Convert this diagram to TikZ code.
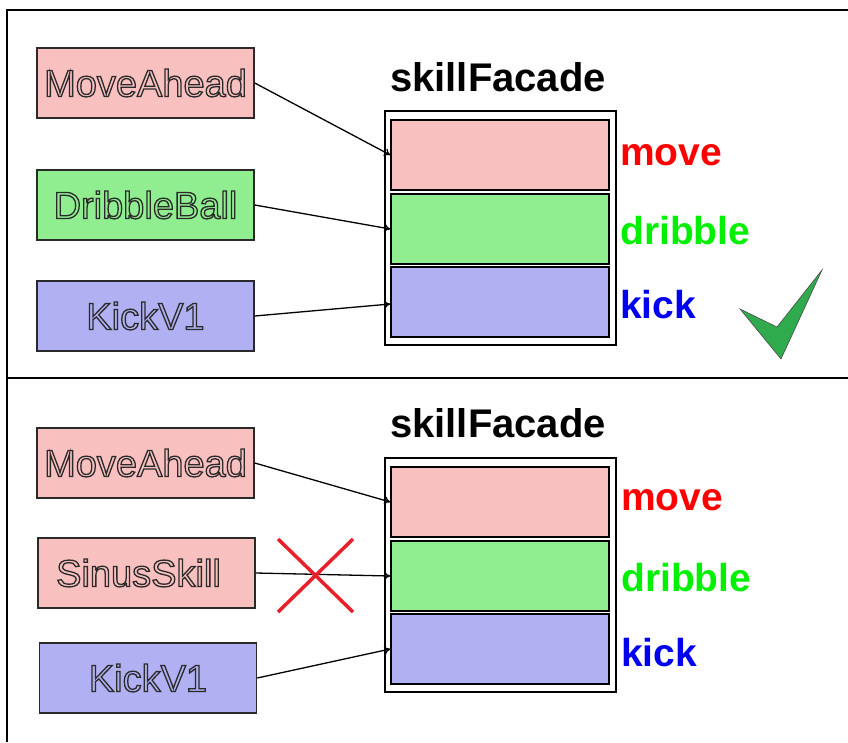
\documentclass[tikz,border=0pt]{standalone}
\usepackage{fontspec}
\setmainfont{Liberation Sans}
\usetikzlibrary{arrows.meta}
\definecolor{skpink}{HTML}{F9C0C0}
\definecolor{skgreen}{HTML}{90EE90}
\definecolor{skblue}{HTML}{B0B0F2}
\definecolor{lblred}{HTML}{FF0000}
\definecolor{lblgreen}{HTML}{00F000}
\definecolor{lblblue}{HTML}{0000F0}
\definecolor{okgreen}{HTML}{2FAA4C}
\definecolor{nored}{HTML}{E8202A}
\definecolor{edge}{HTML}{2A2A2A}
% outlined lettering: glyphs filled with the box colour and stroked dark
\newcommand{\hollow}[2]{{\color{#1}\special{pdf:literal direct 0.165 0.165 0.165 RG 1.3 w 2 Tr}#2\special{pdf:literal direct 0 Tr}}}
\tikzset{
  skill/.style={draw=edge, line width=1.5pt, fill=#1, minimum width=217pt, minimum height=70pt,
    inner sep=0pt, font=\fontsize{38}{42}\selectfont},
  slot/.style={draw=black, line width=1.5pt, fill=#1, minimum width=218pt, minimum height=70pt, inner sep=0pt},
  facade/.style={draw=black, line width=1.2pt, minimum width=231pt, minimum height=234pt, inner sep=0pt},
  title/.style={font=\fontsize{40}{44}\selectfont\bfseries, text=black},
  lbl/.style={anchor=west, inner sep=0pt, font=\fontsize{39}{43}\selectfont\bfseries, text=#1},
  link/.style={draw=black, line width=1.3pt, -{To[length=6pt,width=8pt]}},
}
\begin{document}
\begin{tikzpicture}[x=1pt,y=-1pt]
\useasboundingbox (0,0) rectangle (848,742);
% frame and panel divider
\draw[line width=2pt] (848,10) -- (7,10) -- (7,742);
\draw[line width=1.5pt] (7,378) -- (848,378);

% ---- upper panel ----
\node[skill=skpink]  (ma1) at (145.5,83)  {\hollow{skpink}{MoveAhead}};
\node[skill=skgreen] (db1) at (145.5,205) {\hollow{skgreen}{DribbleBall}};
\node[skill=skblue]  (kv1) at (145.5,316) {\hollow{skblue}{KickV1}};

\node[title] (t1) at (498,77) {skillFacade};
\node[facade] (f1) at (500.5,228) {};
\node[slot=skpink]  (m1) at (500,155) {};
\node[slot=skgreen] (d1) at (500,229) {};
\node[slot=skblue]  (k1) at (500,302) {};
\node[lbl=lblred]   (lm1) at (620,155) {move};
\node[lbl=lblgreen] (ld1) at (620,231) {dribble};
\node[lbl=lblblue]  (lk1) at (620,305) {kick};

\draw[link] (ma1.east) -- (m1.west);
\draw[link] (db1.east) -- (d1.west);
\draw[link] (kv1.east) -- ([yshift=-2pt]k1.west);

% check mark
\filldraw[fill=okgreen, draw=black!70, line width=0.6pt]
  (740,309) -- (777,327) -- (822,270) -- (781,359) -- cycle;

% ---- lower panel ----
\node[skill=skpink] (ma2) at (145.5,463) {\hollow{skpink}{MoveAhead}};
\node[skill=skpink] (ss2) at (146.5,573) {\hollow{skpink}{SinusSkill\hspace{16pt}}};
\node[skill=skblue] (kv2) at (148,678)   {\hollow{skblue}{KickV1}};

\node[title] (t2) at (498,423) {skillFacade};
\node[facade] (f2) at (500.5,575) {};
\node[slot=skpink]  (m2) at (500,502) {};
\node[slot=skgreen] (d2) at (500,576) {};
\node[slot=skblue]  (k2) at (500,649) {};
\node[lbl=lblred]   (lm2) at (621,500) {move};
\node[lbl=lblgreen] (ld2) at (621,578) {dribble};
\node[lbl=lblblue]  (lk2) at (621,653) {kick};

\draw[link] (ma2.east) -- (m2.west);
\draw[link] (ss2.east) -- (d2.west);
\draw[link] (kv2.east) -- (k2.west);

% cross over the rejected link
\coordinate (x1) at (278,539);
\coordinate (x2) at (353,612);
\coordinate (x3) at (353,539);
\coordinate (x4) at (278,612);
\draw[nored, line width=3.5pt] (x1) -- (x2) (x3) -- (x4);
\end{tikzpicture}
\end{document}
